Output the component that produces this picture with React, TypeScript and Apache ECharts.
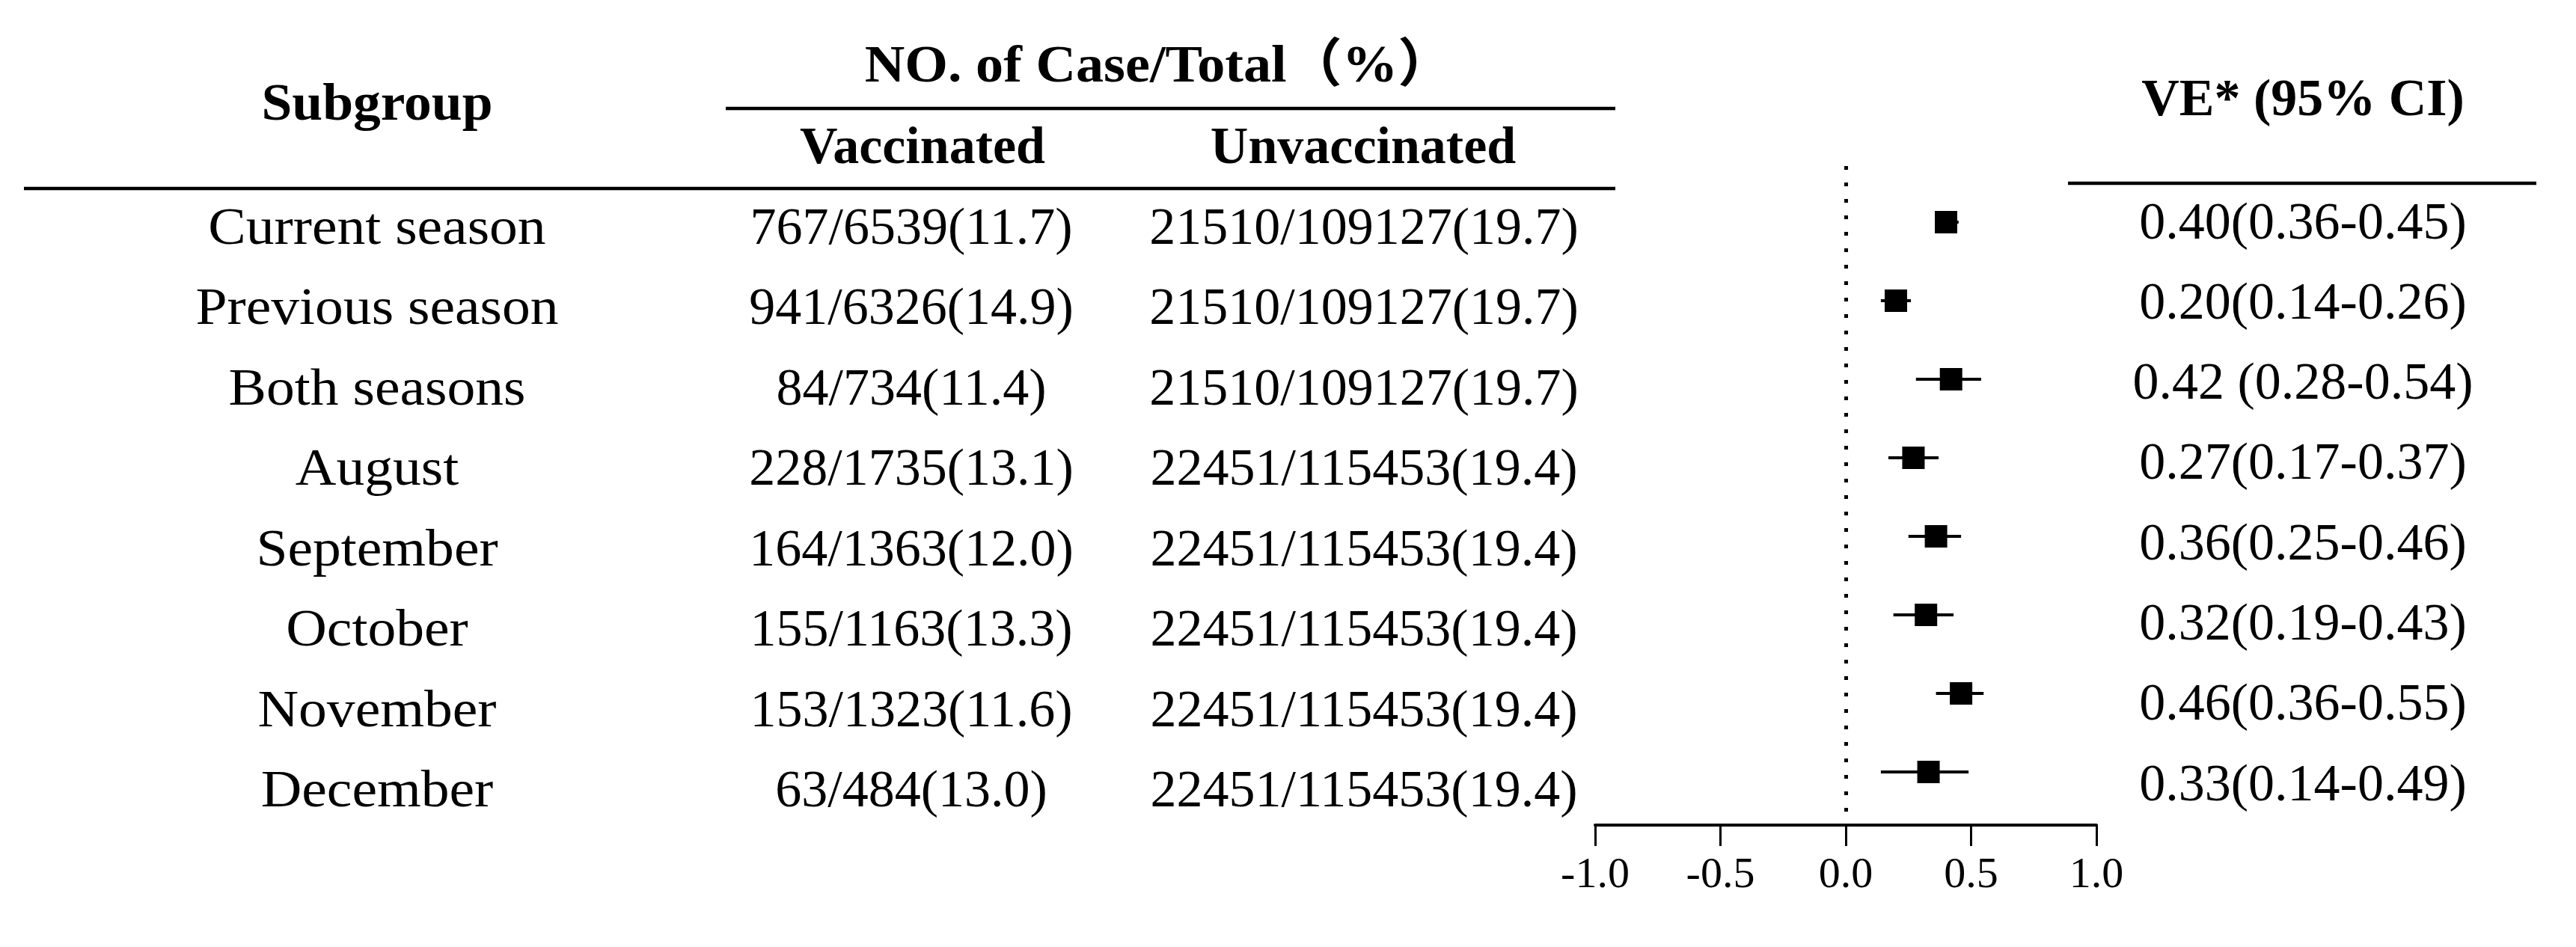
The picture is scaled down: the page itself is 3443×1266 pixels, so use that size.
import React, { useEffect, useRef } from "react";
import * as echarts from "echarts";

// ---------- data ----------
const subgroups = [
  "Current season",
  "Previous season",
  "Both seasons",
  "August",
  "September",
  "October",
  "November",
  "December",
];
const vaccinated = [
  "767/6539(11.7)",
  "941/6326(14.9)",
  "84/734(11.4)",
  "228/1735(13.1)",
  "164/1363(12.0)",
  "155/1163(13.3)",
  "153/1323(11.6)",
  "63/484(13.0)",
];
const unvaccinated = [
  "21510/109127(19.7)",
  "21510/109127(19.7)",
  "21510/109127(19.7)",
  "22451/115453(19.4)",
  "22451/115453(19.4)",
  "22451/115453(19.4)",
  "22451/115453(19.4)",
  "22451/115453(19.4)",
];
const veValues = [0.4, 0.2, 0.42, 0.27, 0.36, 0.32, 0.46, 0.33];
const ciLow = [0.36, 0.14, 0.28, 0.17, 0.25, 0.19, 0.36, 0.14];
const ciHigh = [0.45, 0.26, 0.54, 0.37, 0.46, 0.43, 0.55, 0.49];
const veLabels = [
  "0.40(0.36-0.45)",
  "0.20(0.14-0.26)",
  "0.42 (0.28-0.54)",
  "0.27(0.17-0.37)",
  "0.36(0.25-0.46)",
  "0.32(0.19-0.43)",
  "0.46(0.36-0.55)",
  "0.33(0.14-0.49)",
];
const headerSubgroup = "Subgroup";
const headerCases = "NO. of Case/Total（%）";
const headerVacc = "Vaccinated";
const headerUnvacc = "Unvaccinated";
const headerVE = "VE* (95% CI)";
const xMin = -1;
const xMax = 1;
const xInterval = 0.5;

// ---------- layout ----------
const W = 3443;
const H = 1266;
const FAMILY = '"Liberation Serif", "Noto Sans CJK SC", serif';
const bodyFont = `70px ${FAMILY}`;
const boldFont = `bold 70px ${FAMILY}`;
const rowY0 = 302;
const rowStep = 107.5;
const veY0 = 295;
const veStep = 107.3;
const colSub = 504;
const colVacc = 1218;
const colUnvacc = 1823;
const colVE = 3078;

function txt(text: string, x: number, y: number, font: string, sx = 1) {
  return {
    type: "text",
    silent: true,
    x,
    y,
    scaleX: sx,
    style: {
      text,
      x: 0,
      y: 0,
      font,
      fill: "#000",
      align: "center",
      verticalAlign: "middle",
      textAlign: "center",
      textVerticalAlign: "middle",
    },
  };
}
function hline(x1: number, x2: number, y: number, w: number) {
  return {
    type: "line",
    silent: true,
    shape: { x1, y1: y, x2, y2: y },
    style: { stroke: "#000", lineWidth: w },
  };
}

export default function App() {
  const ref = useRef<HTMLDivElement>(null);
  useEffect(() => {
    if (!ref.current) return;
    const chart = echarts.init(ref.current, null, { renderer: "svg", width: W, height: H });

    const graphics: any[] = [
      txt(headerSubgroup, colSub, 137, boldFont, 1.05),
      txt(headerCases, 1549, 86, boldFont, 1.06),
      txt(headerVacc, 1233, 194, boldFont),
      txt(headerUnvacc, 1822, 194, boldFont),
      txt(headerVE, colVE, 130, boldFont),
      hline(970, 2159, 145, 4.5),
      hline(32, 2159, 252, 4.5),
      hline(2764, 3390, 245, 4.5),
    ];
    subgroups.forEach((s, i) => {
      const y = rowY0 + rowStep * i;
      graphics.push(txt(s, colSub, y, bodyFont, 1.08));
      graphics.push(txt(vaccinated[i], colVacc, y, bodyFont));
      graphics.push(txt(unvaccinated[i], colUnvacc, y, bodyFont));
      graphics.push(txt(veLabels[i], colVE, veY0 + veStep * i, bodyFont));
    });

    const yMin = -0.714;
    const yMax = 7.676;

    chart.setOption({
      animation: false,
      backgroundColor: "#fff",
      grid: { left: 2132, width: 670, top: 222, height: 881, containLabel: false },
      xAxis: {
        type: "value",
        min: xMin,
        max: xMax,
        interval: xInterval,
        splitLine: { show: false },
        axisLine: { show: true, onZero: false, lineStyle: { color: "#000", width: 4 } },
        axisTick: { show: true, length: 28, lineStyle: { color: "#000", width: 3 } },
        axisLabel: {
          color: "#000",
          fontSize: 58,
          fontFamily: FAMILY,
          margin: 34,
          formatter: (v: number) => v.toFixed(1),
        },
      },
      yAxis: {
        type: "value",
        inverse: true,
        min: yMin,
        max: yMax,
        show: false,
        splitLine: { show: false },
      },
      graphic: graphics,
      series: [
        {
          type: "custom",
          renderItem: (params: any, api: any) => {
            const row = api.value(0);
            const a = api.coord([api.value(1), row]);
            const b = api.coord([api.value(2), row]);
            return {
              type: "line",
              shape: { x1: a[0], y1: a[1], x2: b[0], y2: b[1] },
              style: { stroke: "#000", lineWidth: 4 },
            };
          },
          encode: { x: [1, 2], y: 0 },
          data: subgroups.map((_, i) => [i, ciLow[i], ciHigh[i]]),
          z: 2,
        },
        {
          type: "scatter",
          symbol: "rect",
          symbolSize: 30,
          itemStyle: { color: "#000", opacity: 1 },
          data: veValues.map((v, i) => [v, i]),
          z: 3,
          markLine: {
            silent: true,
            symbol: "none",
            label: { show: false },
            lineStyle: { color: "#000", width: 5, type: [5, 17], opacity: 1 },
            data: [[{ coord: [0, yMin] }, { coord: [0, 7.55] }]],
          },
        },
      ],
    });
    return () => chart.dispose();
  }, []);
  return (
    <div
      ref={ref}
      style={{ position: "fixed", left: 0, top: 0, width: W, height: H, background: "#fff" }}
    />
  );
}
